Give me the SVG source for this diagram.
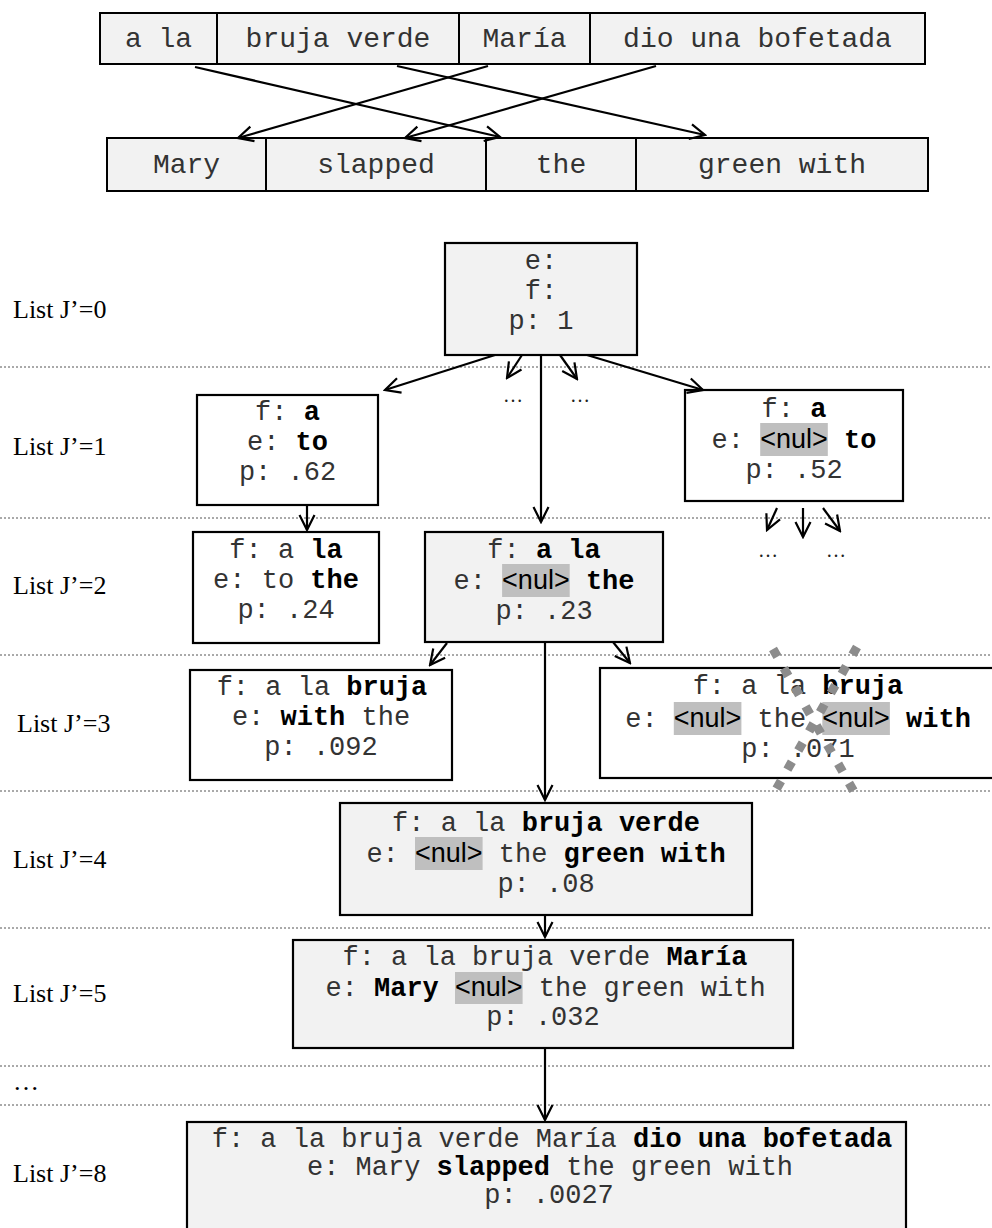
<svg xmlns="http://www.w3.org/2000/svg" width="992" height="1228" viewBox="0 0 992 1228">
<style>
.cell{fill:#f2f2f2;stroke:#000;stroke-width:2}
.g{fill:#f2f2f2;stroke:#000;stroke-width:2.2}
.w{fill:#fff;stroke:#000;stroke-width:2.2}
.div{stroke:#000;stroke-width:2}
.m{font-family:"Liberation Mono","Courier New",monospace;font-size:27px;fill:#333}
.mt{font-family:"Liberation Mono","Courier New",monospace;font-size:28px;fill:#333}
.c{text-anchor:middle}
.b{font-weight:bold;fill:#000}
.nul{font-family:"Liberation Sans",Arial,sans-serif;font-size:27px;fill:#000}
.hl{fill:#bfbfbf}
.lab{font-family:"Liberation Serif","Times New Roman",serif;font-size:26px;fill:#000}
.dots{font-family:"Liberation Serif","Times New Roman",serif;font-size:20px;fill:#222;text-anchor:middle}
.ar{stroke:#000;stroke-width:2.2;fill:none;marker-end:url(#ah)}
.dl{stroke:#555;stroke-width:1;stroke-dasharray:2 2}
.x{stroke:#8c8c8c;stroke-width:9;stroke-dasharray:9 13;fill:none}
</style>
<defs>
<marker id="ah" viewBox="0 0 18 18" refX="16" refY="9" markerWidth="18" markerHeight="18" markerUnits="userSpaceOnUse" orient="auto">
<path d="M1,1.5 L16,9 L1,16.5" fill="none" stroke="#000" stroke-width="2.2"/>
</marker>
</defs>

<g id="separators">
<line class="dl" x1="0" y1="367" x2="992" y2="367"/>
<line class="dl" x1="0" y1="518" x2="992" y2="518"/>
<line class="dl" x1="0" y1="655" x2="992" y2="655"/>
<line class="dl" x1="0" y1="791" x2="992" y2="791"/>
<line class="dl" x1="0" y1="928" x2="992" y2="928"/>
<line class="dl" x1="0" y1="1066" x2="992" y2="1066"/>
<line class="dl" x1="0" y1="1105" x2="992" y2="1105"/>
</g>

<g id="labels">
<text class="lab" x="13" y="318">List J’=0</text>
<text class="lab" x="13" y="455">List J’=1</text>
<text class="lab" x="13" y="594">List J’=2</text>
<text class="lab" x="17" y="732">List J’=3</text>
<text class="lab" x="13" y="868">List J’=4</text>
<text class="lab" x="13" y="1002">List J’=5</text>
<text class="lab" x="13" y="1090">…</text>
<text class="lab" x="13" y="1182">List J’=8</text>
</g>

<g id="source-row">
<rect class="cell" x="100" y="13" width="825" height="51"/>
<line class="div" x1="217" y1="13" x2="217" y2="64"/>
<line class="div" x1="459" y1="13" x2="459" y2="64"/>
<line class="div" x1="590" y1="13" x2="590" y2="64"/>
<text class="mt c" x="158.5" y="47">a la</text>
<text class="mt c" x="338" y="47">bruja verde</text>
<text class="mt c" x="524.5" y="47">María</text>
<text class="mt c" x="757.5" y="47">dio una bofetada</text>
</g>

<g id="target-row">
<rect class="cell" x="107" y="138" width="821" height="53"/>
<line class="div" x1="266" y1="138" x2="266" y2="191"/>
<line class="div" x1="486" y1="138" x2="486" y2="191"/>
<line class="div" x1="636" y1="138" x2="636" y2="191"/>
<text class="mt c" x="186.5" y="173">Mary</text>
<text class="mt c" x="376" y="173">slapped</text>
<text class="mt c" x="561" y="173">the</text>
<text class="mt c" x="782" y="173">green with</text>
</g>

<g id="node-j0">
<rect class="g" x="445" y="243" width="192" height="112"/>
<text class="m c" x="541" y="269">e:</text>
<text class="m c" x="541" y="299">f:</text>
<text class="m c" x="541" y="329">p: 1</text>
</g>

<g id="node-j1a">
<rect class="w" x="197" y="395" width="181" height="110"/>
<text class="m c" x="287.5" y="420">f: <tspan class="b">a</tspan></text>
<text class="m c" x="287.5" y="450">e: <tspan class="b">to</tspan></text>
<text class="m c" x="287.5" y="480">p: .62</text>
</g>

<g id="node-j1b">
<rect class="w" x="685" y="390" width="218" height="111"/>
<text class="m c" x="794" y="417">f: <tspan class="b">a</tspan></text>
<rect class="hl" x="760.2" y="423" width="67.6" height="33"/>
<text class="m" x="711.6" y="448">e:</text>
<text class="nul" x="760.2" y="448">&lt;nul&gt;</text>
<text class="m b" x="844" y="448">to</text>
<text class="m c" x="794" y="478">p: .52</text>
</g>

<g id="node-j2a">
<rect class="w" x="193" y="532" width="186" height="111"/>
<text class="m c" x="286" y="558">f: a <tspan class="b">la</tspan></text>
<text class="m c" x="286" y="588">e: to <tspan class="b">the</tspan></text>
<text class="m c" x="286" y="618">p: .24</text>
</g>

<g id="node-j2b">
<rect class="g" x="425" y="532" width="238" height="110"/>
<text class="m c" x="544" y="558">f: <tspan class="b">a la</tspan></text>
<rect class="hl" x="502.1" y="564" width="67.6" height="33"/>
<text class="m" x="453.5" y="589">e:</text>
<text class="nul" x="502.1" y="589">&lt;nul&gt;</text>
<text class="m b" x="585.9" y="589">the</text>
<text class="m c" x="544" y="619">p: .23</text>
</g>

<g id="node-j3a">
<rect class="w" x="190" y="670" width="262" height="110"/>
<text class="m c" x="322" y="695">f: a la <tspan class="b">bruja</tspan></text>
<text class="m c" x="321" y="725">e: <tspan class="b">with</tspan> the</text>
<text class="m c" x="321" y="755">p: .092</text>
</g>

<g id="node-j3b">
<rect class="w" x="600" y="668" width="400" height="110"/>
<text class="m c" x="798" y="694">f: a la <tspan class="b">bruja</tspan></text>
<rect class="hl" x="673.8" y="702" width="67.6" height="33"/>
<rect class="hl" x="822.3" y="702" width="67.6" height="33"/>
<text class="m" x="625.2" y="727">e:</text>
<text class="nul" x="673.8" y="727">&lt;nul&gt;</text>
<text class="m" x="757.5" y="727">the</text>
<text class="nul" x="822.3" y="727">&lt;nul&gt;</text>
<text class="m b" x="906.1" y="727">with</text>
<text class="m c" x="798" y="757">p: .071</text>
</g>

<g id="node-j4">
<rect class="g" x="340" y="803" width="412" height="112"/>
<text class="m c" x="546" y="831">f: a la <tspan class="b">bruja verde</tspan></text>
<rect class="hl" x="415" y="837" width="67.6" height="33"/>
<text class="m" x="366.4" y="862">e:</text>
<text class="nul" x="415" y="862">&lt;nul&gt;</text>
<text class="m" x="498.8" y="862">the <tspan class="b">green with</tspan></text>
<text class="m c" x="546" y="892">p: .08</text>
</g>

<g id="node-j5">
<rect class="g" x="293" y="940" width="500" height="108"/>
<text class="m c" x="545" y="965">f: a la bruja verde <tspan class="b">María</tspan></text>
<rect class="hl" x="455" y="972" width="67.6" height="32"/>
<text class="m" x="325.4" y="996">e: <tspan class="b">Mary</tspan></text>
<text class="nul" x="455" y="996">&lt;nul&gt;</text>
<text class="m" x="538.8" y="996">the green with</text>
<text class="m c" x="543" y="1025">p: .032</text>
</g>

<g id="node-j8">
<rect class="g" x="187" y="1122" width="719" height="130"/>
<text class="m c" x="552" y="1147">f: a la bruja verde María <tspan class="b">dio una bofetada</tspan></text>
<text class="m c" x="550" y="1175">e: Mary <tspan class="b">slapped</tspan> the green with</text>
<text class="m c" x="549" y="1203">p: .0027</text>
</g>

<g id="ellipses">
<text class="dots" x="513" y="402">…</text>
<text class="dots" x="580" y="402">…</text>
<text class="dots" x="768" y="557">…</text>
<text class="dots" x="836" y="557">…</text>
</g>

<g id="connectors">
<line class="ar" x1="195" y1="67" x2="500" y2="137"/>
<line class="ar" x1="397" y1="66" x2="705" y2="135"/>
<line class="ar" x1="488" y1="66" x2="238" y2="138"/>
<line class="ar" x1="656" y1="66" x2="405" y2="138"/>
<line class="ar" x1="495" y1="355" x2="385" y2="390"/>
<line class="ar" x1="522" y1="355" x2="507" y2="378"/>
<line class="ar" x1="541" y1="355" x2="541" y2="522"/>
<line class="ar" x1="560" y1="355" x2="577" y2="379"/>
<line class="ar" x1="587" y1="355" x2="703" y2="390"/>
<line class="ar" x1="307" y1="505" x2="307" y2="530"/>
<line class="ar" x1="777" y1="508" x2="767" y2="530"/>
<line class="ar" x1="803" y1="508" x2="803" y2="537"/>
<line class="ar" x1="823" y1="508" x2="840" y2="531"/>
<line class="ar" x1="447" y1="643" x2="430" y2="665"/>
<line class="ar" x1="613" y1="642" x2="630" y2="663"/>
<line class="ar" x1="545" y1="642" x2="545" y2="800"/>
<line class="ar" x1="545" y1="915" x2="545" y2="937"/>
<line class="ar" x1="545" y1="1048" x2="545" y2="1120"/>
</g>

<g id="cross-out">
<line class="x" x1="773" y1="649" x2="857" y2="797"/>
<line class="x" x1="857" y1="647" x2="773" y2="795"/>
</g>
</svg>
